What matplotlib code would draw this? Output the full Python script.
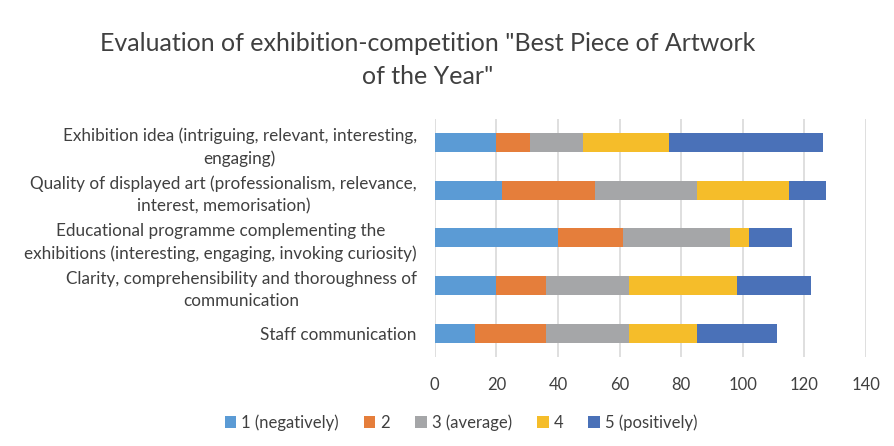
import numpy as np
import matplotlib.pyplot as plt

plt.rcParams['font.family'] = ['Lato', 'DejaVu Sans']

# categories, top to bottom
categories = [
    "Exhibition idea (intriguing, relevant, interesting,\nengaging)",
    "Quality of displayed art (professionalism, relevance,\ninterest, memorisation)",
    "Educational programme complementing the\nexhibitions (interesting, engaging, invoking curiosity)",
    "Clarity, comprehensibility and thoroughness of\ncommunication",
    "Staff communication",
]

series_names = ["1 (negatively)", "2", "3 (average)", "4", "5 (positively)"]
score_1 = [20, 22, 40, 20, 13]
score_2 = [11, 30, 21, 16, 23]
score_3 = [17, 33, 35, 27, 27]
score_4 = [28, 30, 6, 35, 22]
score_5 = [50, 12, 14, 24, 26]

colors = ['#5B9BD5', '#E57E3B', '#A5A6A8', '#F5BD2A', '#4A71B8']

fig = plt.figure(figsize=(8.95, 4.46), dpi=100)
ax = fig.add_axes([0.4857, 0.1993, 0.4819, 0.5346])

y = np.arange(len(categories))
left = np.zeros(len(categories))
for name, vals, c in zip(series_names, [score_1, score_2, score_3, score_4, score_5], colors):
    ax.barh(y, vals, left=left, height=0.4, color=c, label=name, zorder=3)
    left += np.array(vals)

ax.set_ylim(len(categories) - 0.5, -0.5)
ax.set_xlim(0, 140)
ax.set_xticks(np.arange(0, 141, 20))
ax.set_yticks(y)
ax.set_yticklabels(categories, fontsize=12.3, color='#404040')
for lbl in ax.get_yticklabels():
    lbl.set_multialignment('center')
    lbl.set_linespacing(1.45)
ax.tick_params(axis='y', length=0, pad=13)
ax.tick_params(axis='x', length=0, labelsize=12, labelcolor='#404040', pad=14)
ax.grid(axis='x', color='#D9D9D9', linewidth=1.2, zorder=0)
for s in ax.spines.values():
    s.set_visible(False)

fig.text(0.478, 0.865, 'Evaluation of exhibition-competition "Best Piece of Artwork\nof the Year"',
         ha='center', va='center', fontsize=18, color='#404040', linespacing=1.5)

fig.legend(loc='center', bbox_to_anchor=(0.515, 0.053), ncol=5, frameon=False,
           fontsize=12, handlelength=0.7, handleheight=0.7, handletextpad=0.3,
           columnspacing=1.5, labelcolor='#404040')

fig.savefig('out.png', dpi=100)
